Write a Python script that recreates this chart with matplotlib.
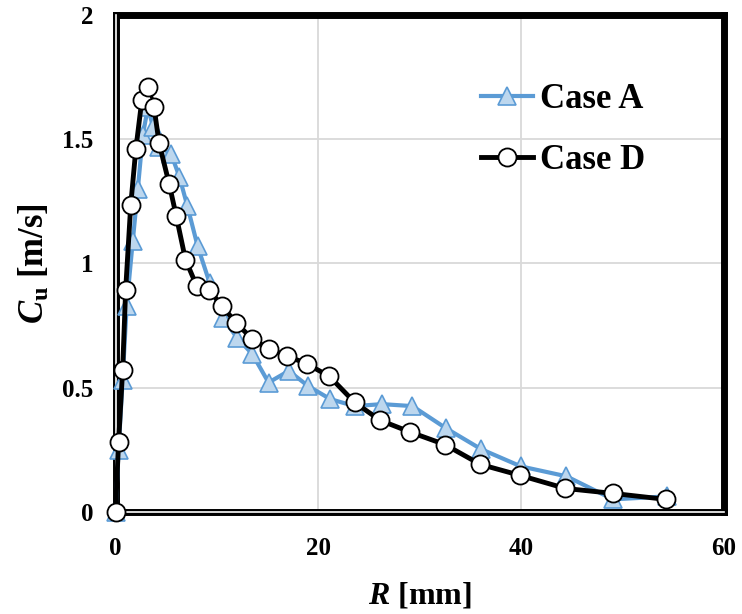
import matplotlib
matplotlib.use("Agg")
from matplotlib import pyplot as plt

plt.rcParams["font.family"] = "Liberation Serif"
plt.rcParams["font.weight"] = "bold"
plt.rcParams["mathtext.fontset"] = "custom"
plt.rcParams["mathtext.it"] = "Liberation Serif:italic:bold"
plt.rcParams["mathtext.bf"] = "Liberation Serif:bold"
plt.rcParams["mathtext.rm"] = "Liberation Serif:bold"

# Case A (triangles)
r_a = [0, 0.3, 0.7, 1.1, 1.7, 2.2, 2.7, 3.2, 3.7, 4.3, 5.5, 6.3, 7.1, 8.1, 9.3,
       10.6, 12.0, 13.5, 15.1, 17.1, 19.0, 21.2, 23.6, 26.3, 29.3, 32.6, 36.1,
       40.0, 44.5, 49.1, 54.4]
cu_a = [0.0, 0.25, 0.53, 0.83, 1.09, 1.30, 1.52, 1.63, 1.55, 1.47, 1.44, 1.35,
        1.23, 1.07, 0.92, 0.78, 0.70, 0.635, 0.52, 0.567, 0.506, 0.453, 0.425,
        0.433, 0.425, 0.336, 0.251, 0.182, 0.142, 0.049, 0.061]

# Case D (circles)
r_d = [0, 0.3, 0.7, 1.0, 1.5, 2.0, 2.6, 3.2, 3.8, 4.3, 5.3, 6.0, 6.9, 8.0, 9.2,
       10.5, 11.9, 13.5, 15.1, 16.9, 18.9, 21.1, 23.6, 26.1, 29.1, 32.5, 36.0,
       39.9, 44.4, 49.1, 54.3]
cu_d = [0.0, 0.28, 0.57, 0.895, 1.235, 1.46, 1.66, 1.71, 1.63, 1.485, 1.32, 1.19,
        1.016, 0.91, 0.895, 0.83, 0.76, 0.696, 0.656, 0.628, 0.595, 0.545, 0.44,
        0.368, 0.32, 0.27, 0.19, 0.146, 0.093, 0.073, 0.049]

x_ticks = [0, 20, 40, 60]
y_ticks = [0, 0.5, 1, 1.5, 2]
y_tick_labels = ["0", "0.5", "1", "1.5", "2"]

fig = plt.figure(figsize=(7.42, 6.14), dpi=100)
ax = fig.add_axes([0.1557, 0.1669, 0.8194, 0.8079])

ax.set_xlim(0, 60)
ax.set_ylim(0, 2)
ax.set_xticks(x_ticks)
ax.set_yticks(y_ticks)
ax.set_yticklabels(y_tick_labels)
ax.tick_params(length=0, labelsize=18)
ax.tick_params(axis="x", pad=18)
ax.tick_params(axis="y", pad=16)
ax.grid(True, color="#d9d9d9", lw=1.3)
ax.set_axisbelow(True)

for s in ax.spines.values():
    s.set_linewidth(5)
    s.set_color("black")
# double line look on the axes
ax.axhline(0, color="white", lw=1.2, zorder=2.6, clip_on=False)
ax.axvline(0, color="white", lw=1.2, zorder=2.6, clip_on=False)

ax.plot(r_a, cu_a, color="#5b9bd5", lw=3, marker="^", markersize=13.5,
        markerfacecolor="#bdd7ee", markeredgecolor="#5b9bd5", markeredgewidth=1.2,
        label="Case A", zorder=3, clip_on=False)
ax.plot(r_d, cu_d, color="black", lw=3.5, marker="o", markersize=13,
        markerfacecolor="white", markeredgecolor="black", markeredgewidth=1.3,
        label="Case D", zorder=4, clip_on=False)

ax.set_xlabel(r"$\mathit{R}$ [mm]", fontsize=23, fontweight="bold", labelpad=15)
ax.set_ylabel(r"$\mathit{C}_{\mathbf{u}}$ [m/s]", fontsize=25, fontweight="bold", labelpad=7)

ax.legend(loc="upper left", bbox_to_anchor=(0.601, 0.864), frameon=False,
          handlelength=1.5, labelspacing=0.8, handletextpad=0.2,
          borderpad=0, borderaxespad=0,
          prop={"family": "Liberation Serif", "weight": "bold", "size": 25})

fig.savefig("out.png", dpi=100)
